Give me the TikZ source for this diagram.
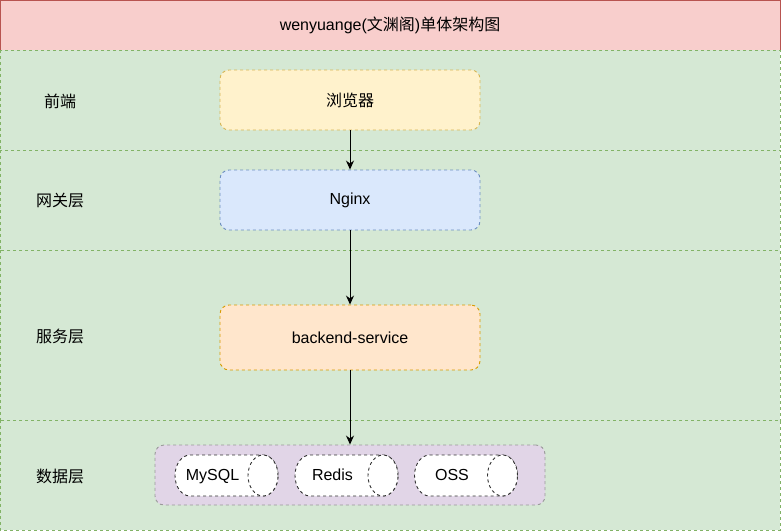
\documentclass[tikz,border=0pt]{standalone}
\usepackage{fontspec}
\setmainfont{Liberation Sans}
\newfontfamily\cjk{Noto Sans CJK SC}
\usetikzlibrary{arrows.meta}
\definecolor{layerfill}{HTML}{D5E8D4}
\definecolor{layerline}{HTML}{82B366}
\definecolor{titlefill}{HTML}{F8CECC}
\definecolor{titleline}{HTML}{B85450}
\definecolor{webfill}{HTML}{FFF2CC}
\definecolor{webline}{HTML}{D6B656}
\definecolor{gwfill}{HTML}{DAE8FC}
\definecolor{gwline}{HTML}{6C8EBF}
\definecolor{svcfill}{HTML}{FFE6CC}
\definecolor{svcline}{HTML}{D79B00}
\definecolor{datafill}{HTML}{E1D5E7}
\definecolor{dataline}{HTML}{999999}
\begin{document}
\begin{tikzpicture}[x=1pt, y=-1pt, font=\fontsize{16}{19}\selectfont, line width=0.9pt,
  layer/.style = {draw=layerline, fill=layerfill, dash pattern=on 3pt off 3pt},
  box/.style = {draw, shape=rectangle, rounded corners=9pt, dash pattern=on 3pt off 3pt,
                minimum width=260pt, minimum height=60pt},
  store/.style = {draw=black!80, fill=white, dash pattern=on 3pt off 3pt},
  dbtext/.style = {text height=11.5pt, text depth=3.5pt},
  link/.style = {-{Stealth[length=9pt, width=8pt]}}]
\useasboundingbox (0,0) rectangle (781,531);
% layers
\draw[fill=titlefill, draw=titleline] (0,0) rectangle (780,50);
\draw[layer] (0,50) rectangle (780,150);
\draw[layer] (0,150) rectangle (780,250);
\draw[layer] (0,250) rectangle (780,420);
\draw[layer] (0,420) rectangle (780,530);
\node (title) at (390,25) {wenyuange({\cjk 文渊阁}){\cjk 单体架构图}};

\node (web) at (60,101) {\cjk 前端};
\node (gw) at (60,201) {\cjk 网关层};
\node (svc) at (60,336) {\cjk 服务层};
\node (data) at (60,476) {\cjk 数据层};

\node[box, fill=webfill, draw=webline] (browser) at (350,100) {\cjk 浏览器};
\node[box, fill=gwfill, draw=gwline] (nginx) at (350,200) {Nginx};
\node[box, fill=svcfill, draw=svcline, minimum height=65pt] (backend) at (350,337.5) {backend-service};
\node[box, fill=datafill, draw=dataline, minimum width=390pt] (storage) at (350,475) {};

% cylinders
\foreach \name/\cx/\lbl in {mysql/226.5/MySQL, redis/346.5/Redis, oss/466/OSS}{
  \draw[store] (\cx-36.5,455) -- (\cx+36.5,455)
    arc[start angle=90, end angle=-90, x radius=15pt, y radius=20.5pt]
    -- (\cx-36.5,496)
    arc[start angle=-90, end angle=-270, x radius=15pt, y radius=20.5pt] -- cycle;
  \draw[store] (\cx+36.5,475.5) ellipse[x radius=15pt, y radius=20.5pt];
  \node[dbtext] (\name) at (\cx-14,476) {\lbl};
}

\draw[link] (browser) -- (nginx);
\draw[link] (nginx) -- (backend);
\draw[link] (backend) -- (storage);
\end{tikzpicture}
\end{document}
